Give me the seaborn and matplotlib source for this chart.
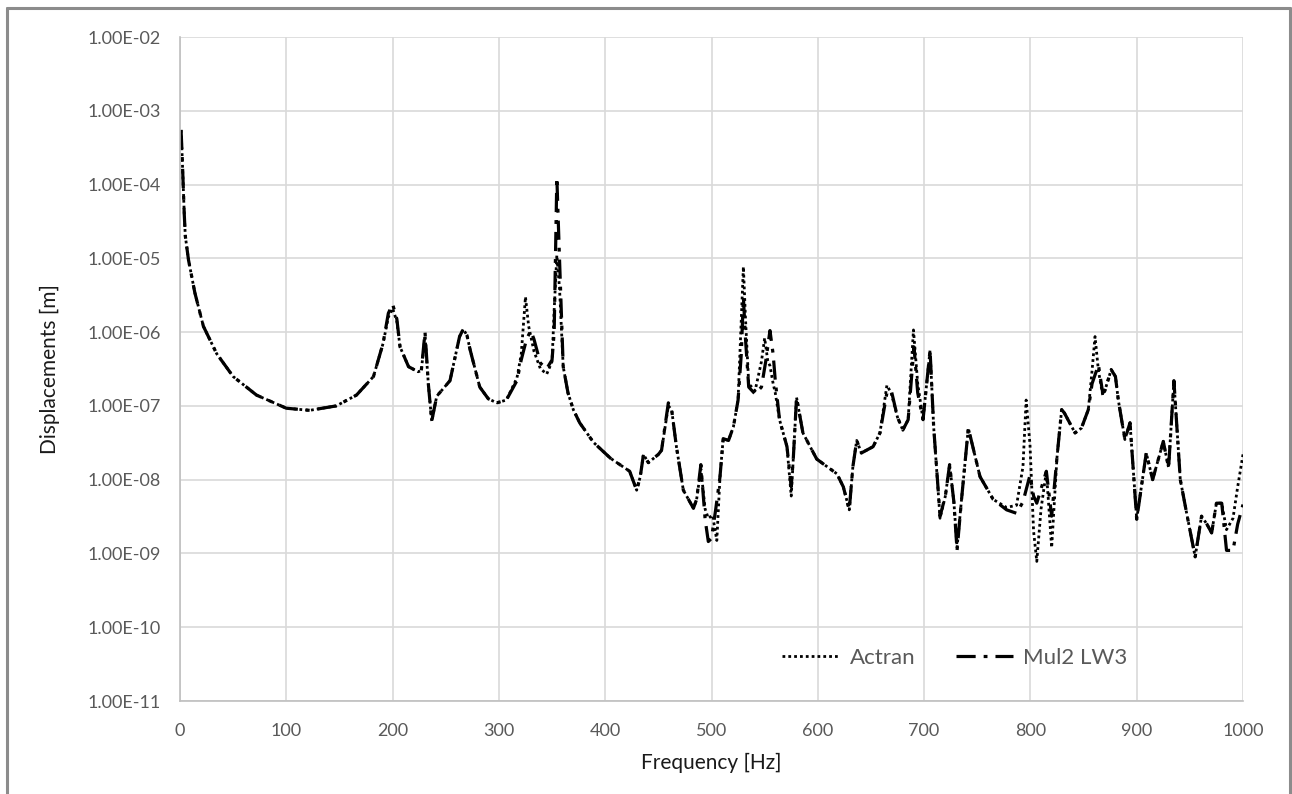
import numpy as np
import pandas as pd
import matplotlib
matplotlib.use("Agg")
import matplotlib.pyplot as plt
from matplotlib.lines import Line2D
from matplotlib.ticker import FuncFormatter, FixedLocator
import seaborn as sns

# ---------------- data ----------------
freq_mul2 = [1, 2, 3, 4, 5, 8, 14, 22, 34.5, 50, 72, 100, 122, 147, 166, 182, 191, 196, 200,
             204, 207, 215, 224, 227, 230.5, 233.6, 236.8, 241.5, 254, 263, 266.5, 270, 273,
             282, 290, 298, 307, 317, 321, 326, 330, 333, 339, 345, 350, 352, 354.5, 357,
             360.5, 365, 370, 376, 389, 405, 423, 429.6, 433, 436, 440.6, 450, 453, 459.4,
             462.5, 467, 473.5, 483, 486, 490, 494, 497, 500, 504, 508, 511, 516, 520.6, 525,
             528, 530, 532, 535, 541, 547, 551, 555, 558, 560, 564, 571, 575, 577, 580, 586,
             599, 618, 624, 629.6, 633, 636.6, 641, 652, 658.5, 665, 669, 675, 680, 685,
             690.5, 694, 699, 705.6, 709, 715, 720, 724, 728, 731, 735, 741.6, 752.6, 765,
             777.6, 787, 793, 799.6, 803, 806, 815, 820, 825, 829.4, 832, 842, 848, 854.5,
             858, 864, 868, 870, 876, 880, 882.7, 888.9, 893.7, 900, 909, 915, 925, 930, 935,
             941, 947, 955, 961, 966, 970.5, 975, 980, 984.5, 990.6, 995, 1000]
disp_mul2 = [5.5e-4, 2.5e-4, 1.0e-4, 4.0e-5, 2.0e-5, 9.5e-6, 3.4e-6, 1.2e-6, 5.1e-7, 2.5e-7,
             1.4e-7, 9.3e-8, 8.7e-8, 1.0e-7, 1.4e-7, 2.5e-7, 7.0e-7, 1.8e-6, 2.4e-6,
             1.5e-6, 6.3e-7, 3.4e-7, 2.9e-7, 3.0e-7, 1.0e-6, 2.0e-7, 6.2e-8, 1.35e-7, 2.2e-7,
             8.7e-7, 1.1e-6, 9.0e-7, 5.7e-7,
             1.8e-7, 1.25e-7, 1.1e-7, 1.2e-7, 2.2e-7, 4.2e-7, 8.0e-7, 1.05e-6, 8.0e-7, 3.8e-7,
             3.2e-7, 4.2e-7, 1.0e-6, 1.25e-4, 1.0e-5,
             3.4e-7, 1.5e-7, 8.9e-8, 5.9e-8, 3.2e-8, 1.95e-8, 1.3e-8, 7.2e-9, 1.1e-8, 2.2e-8,
             1.7e-8, 2.2e-8, 2.5e-8, 1.1e-7,
             8.9e-8, 2.8e-8, 7.2e-9, 4.1e-9, 5.4e-9, 1.6e-8, 2.9e-9, 1.45e-9, 1.6e-9, 4.0e-9,
             1.1e-8, 3.6e-8, 3.4e-8, 5.2e-8, 1.2e-7,
             5.0e-7, 3.0e-6, 8.0e-7, 1.8e-7, 1.45e-7, 1.8e-7, 4.0e-7, 1.05e-6, 5.0e-7, 2.2e-7,
             6.5e-8, 2.8e-8, 8.0e-9, 2.0e-8, 1.3e-7, 4.3e-8,
             1.9e-8, 1.2e-8, 8.0e-9, 3.9e-9, 1.5e-8, 3.4e-8, 2.3e-8, 2.8e-8, 4.3e-8, 1.5e-7,
             1.65e-7, 7.0e-8, 4.7e-8, 6.5e-8,
             6.3e-7, 1.5e-7, 6.5e-8, 5.7e-7, 5.2e-8, 3.2e-9, 6.0e-9, 1.6e-8, 5.0e-9, 1.1e-9,
             5.0e-9, 5.0e-8, 1.1e-8, 5.4e-9,
             3.9e-9, 3.5e-9, 5.0e-9, 1.15e-8, 6.0e-9, 4.8e-9, 1.3e-8, 3.2e-9, 2.0e-8, 8.9e-8,
             8.0e-8, 4.3e-8, 5.0e-8, 8.9e-8,
             2.0e-7, 3.6e-7, 1.5e-7, 1.6e-7, 3.1e-7, 2.5e-7, 1.2e-7, 3.5e-8, 5.9e-8, 2.9e-9,
             2.3e-8, 1.0e-8, 3.3e-8, 1.45e-8, 2.2e-7,
             1.0e-8, 3.5e-9, 9.0e-10, 3.2e-9, 2.5e-9, 1.9e-9, 4.8e-9, 4.8e-9, 1.1e-9, 1.1e-9,
             2.5e-9, 4.6e-9]

freq_actran = [1, 2, 3, 4, 5, 8, 14, 22, 34.5, 50, 72, 100, 122, 147, 166, 182, 191, 196, 200,
               204, 207, 215, 224, 227, 230.5, 233.6, 236.8, 241.5, 254, 263, 266.5, 270, 273,
               282, 290, 298, 307, 317, 321, 325, 328, 333, 339, 345, 350, 352, 354.5, 357,
               360.5, 365, 370, 376, 389, 405, 423, 429.6, 433, 436, 440.6, 450, 453, 459.4,
               462.5, 467, 473.5, 483, 486, 490, 494, 497, 501, 505, 508, 511, 516, 520.6, 525,
               528, 530, 532, 535, 541, 547, 550, 553, 555, 558, 560, 564, 571, 575, 577, 580,
               586, 599, 618, 624, 629.6, 633, 636.6, 641, 652, 658.5, 665, 669, 675, 680, 685,
               690, 694, 699, 705.6, 709, 715, 720, 724, 728, 731, 735, 741.6, 752.6, 765,
               777.6, 787, 793, 796, 799.6, 803, 806, 810, 815, 820, 825, 829.4, 832, 842, 848,
               854.5, 858, 860.8, 864, 868, 870, 876, 880, 882.7, 888.9, 893.7, 900, 909, 915,
               925, 930, 935, 941, 947, 955, 961, 966, 970.5, 975, 980, 984.5, 990.6, 995, 1000]
disp_actran = [5.5e-4, 2.5e-4, 1.0e-4, 4.0e-5, 2.0e-5, 9.5e-6, 3.4e-6, 1.2e-6, 5.1e-7, 2.5e-7,
               1.4e-7, 9.3e-8, 8.7e-8, 1.0e-7, 1.4e-7, 2.5e-7, 7.0e-7, 1.6e-6, 2.1e-6,
               1.4e-6, 6.3e-7, 3.4e-7, 2.9e-7, 3.0e-7, 9.0e-7, 2.0e-7, 6.2e-8, 1.35e-7, 2.2e-7,
               8.7e-7, 1.1e-6, 9.0e-7, 5.7e-7,
               1.8e-7, 1.25e-7, 1.1e-7, 1.2e-7, 2.4e-7, 5.0e-7, 3.0e-6, 1.2e-6, 5.5e-7, 3.2e-7,
               2.7e-7, 4.0e-7, 2.0e-6, 1.1e-5, 4.0e-6,
               3.4e-7, 1.5e-7, 8.9e-8, 5.9e-8, 3.2e-8, 1.95e-8, 1.3e-8, 7.2e-9, 1.1e-8, 2.2e-8,
               1.7e-8, 2.2e-8, 2.5e-8, 1.0e-7,
               8.9e-8, 2.8e-8, 7.2e-9, 4.1e-9, 5.4e-9, 1.4e-8, 4.0e-9, 3.0e-9, 3.3e-9, 1.5e-9,
               1.1e-8, 3.6e-8, 3.4e-8, 5.2e-8, 1.2e-7,
               1.5e-6, 7.7e-6, 1.5e-6, 2.0e-7, 1.6e-7, 4.0e-7, 8.3e-7, 4.0e-7, 3.5e-7, 2.0e-7,
               1.5e-7, 6.5e-8, 2.8e-8, 6.0e-9, 2.0e-8, 1.3e-7,
               4.3e-8, 1.9e-8, 1.2e-8, 8.0e-9, 3.9e-9, 1.5e-8, 3.4e-8, 2.3e-8, 2.8e-8, 4.3e-8,
               1.9e-7, 1.5e-7, 7.0e-8, 4.7e-8, 6.5e-8,
               1.07e-6, 2.0e-7, 6.5e-8, 5.7e-7, 5.2e-8, 3.0e-9, 6.0e-9, 1.6e-8, 5.0e-9, 1.2e-9,
               5.0e-9, 5.0e-8, 1.1e-8, 5.4e-9,
               4.2e-9, 4.5e-9, 1.5e-8, 1.2e-7, 3.0e-8, 2.0e-9, 7.8e-10, 4.0e-9, 1.3e-8, 1.2e-9,
               2.0e-8, 8.9e-8, 8.0e-8, 4.3e-8, 5.0e-8,
               8.9e-8, 3.0e-7, 8.7e-7, 3.0e-7, 1.4e-7, 1.6e-7, 3.1e-7, 2.5e-7, 1.2e-7, 3.5e-8,
               5.9e-8, 2.9e-9, 2.3e-8, 1.0e-8,
               3.3e-8, 1.45e-8, 2.2e-7, 1.0e-8, 3.5e-9, 9.0e-10, 3.2e-9, 2.5e-9, 1.9e-9, 4.8e-9,
               4.8e-9, 2.1e-9, 3.0e-9, 8.0e-9, 2.2e-8]

series_names = ["Actran", "Mul2 LW3"]
x_ticks = [0, 100, 200, 300, 400, 500, 600, 700, 800, 900, 1000]
y_ticks = [1e-11, 1e-10, 1e-9, 1e-8, 1e-7, 1e-6, 1e-5, 1e-4, 1e-3, 1e-2]

# ---------------- styling ----------------
sns.set_theme(style="whitegrid")
plt.rcParams["font.family"] = ["Lato", "DejaVu Sans"]

fig = plt.figure(figsize=(12.92, 7.94), dpi=100)
ax = fig.add_axes([180 / 1292, 1 - 701 / 794, (1243 - 180) / 1292, (701 - 37) / 794])

df_a = pd.DataFrame({"Frequency": freq_actran, "Disp": disp_actran})
df_m = pd.DataFrame({"Frequency": freq_mul2, "Disp": disp_mul2})

sns.lineplot(data=df_a, x="Frequency", y="Disp", ax=ax, color="black", lw=2.0,
             estimator=None, sort=False, label=series_names[0],
             linestyle=(0, (1, 1.1)))
sns.lineplot(data=df_m, x="Frequency", y="Disp", ax=ax, color="black", lw=2.3,
             estimator=None, sort=False, label=series_names[1],
             linestyle=(0, (6, 2.5, 1.2, 2.5)))

ax.set_yscale("log")
ax.set_xlim(0, 1000)
ax.set_ylim(1e-11, 1e-2)
ax.xaxis.set_major_locator(FixedLocator(x_ticks))
ax.yaxis.set_major_locator(FixedLocator(y_ticks))
ax.yaxis.set_minor_locator(FixedLocator([]))
ax.yaxis.set_major_formatter(FuncFormatter(lambda v, p: "{:.2E}".format(v)))
ax.grid(True, which="major", color="#d9d9d9", lw=1.2)
ax.tick_params(axis="both", which="both", length=0, labelsize=13, labelcolor="#595959")
ax.tick_params(axis="y", pad=14)
ax.tick_params(axis="x", pad=16)

for side in ["top", "right"]:
    ax.spines[side].set_visible(False)
for side in ["left", "bottom"]:
    ax.spines[side].set_visible(True)
    ax.spines[side].set_color("#bfbfbf")
    ax.spines[side].set_linewidth(1.2)

ax.set_xlabel("Frequency [Hz]", fontsize=15, color="#1a1a1a")
ax.set_ylabel("Displacements [m]", fontsize=15, color="#1a1a1a")
ax.xaxis.label.set_va("center")
ax.yaxis.label.set_va("center")
ax.xaxis.set_label_coords(0.5, -(763 - 701) / 664)
ax.yaxis.set_label_coords(-(180 - 50) / 1063, 0.5)

leg = ax.legend(loc="center", bbox_to_anchor=((955 - 180) / 1063, (701 - 658) / 664), ncol=2,
                frameon=False, fontsize=16, handlelength=2.6, columnspacing=1.8,
                handletextpad=0.45)
for t in leg.get_texts():
    t.set_color("#595959")

# figure border (left, top, right)
border = dict(color="#8c8c8c", lw=2.2, transform=fig.transFigure)
fig.add_artist(Line2D([7 / 1292, 7 / 1292], [0, 1 - 8 / 794], **border))
fig.add_artist(Line2D([7 / 1292, 1290 / 1292], [1 - 8 / 794, 1 - 8 / 794], **border))
fig.add_artist(Line2D([1290 / 1292, 1290 / 1292], [0, 1 - 8 / 794], **border))

fig.savefig("out.png", dpi=100)
